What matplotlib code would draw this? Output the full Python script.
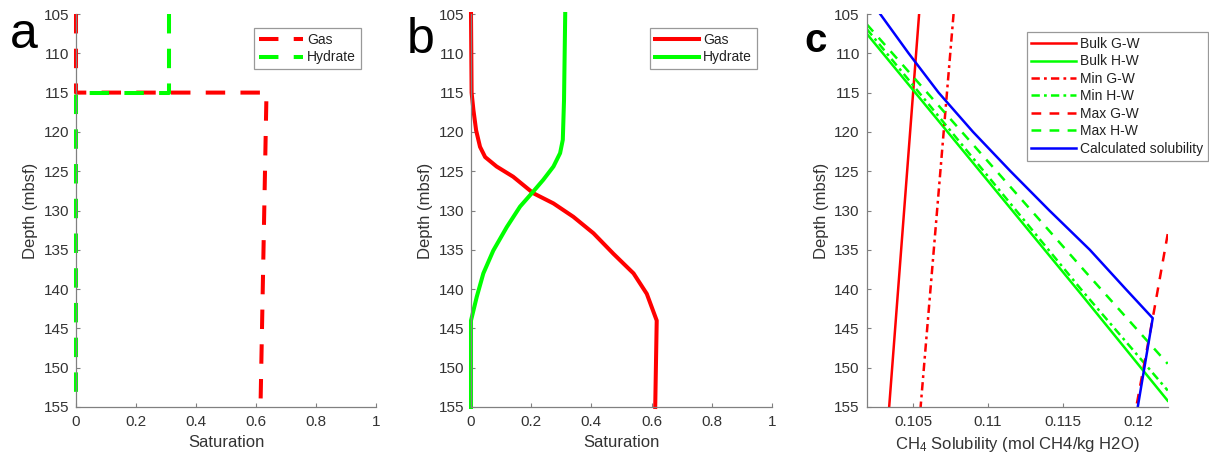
import matplotlib
matplotlib.use('Agg')
import matplotlib.pyplot as plt

plt.rcParams['font.family'] = ['Liberation Sans', 'DejaVu Sans']
plt.rcParams['mathtext.fontset'] = 'custom'
plt.rcParams['mathtext.rm'] = 'Liberation Sans'
plt.rcParams['lines.scale_dashes'] = False

# panel a: step profiles
a_depth = [105, 115, 115, 155]
a_gas = [0, 0, 0.635, 0.615]
a_hyd = [0.31, 0.31, 0, 0]

# panel b: smooth profiles
b_gas_depth = [105, 115, 117.2, 119.8, 121.9, 123.2, 124.4, 125.7, 127.8, 129.1,
               130.8, 132.9, 135.5, 138.0, 140.6, 144.0, 155]
b_gas = [0, 0.002, 0.008, 0.017, 0.03, 0.047, 0.085, 0.14, 0.207, 0.274,
         0.34, 0.407, 0.473, 0.54, 0.584, 0.617, 0.612]
b_hyd_depth = [105, 116, 121.0, 122.7, 124.4, 126.1, 127.8, 129.5, 132.1, 135.1,
               138.0, 141.0, 144.0, 155]
b_hyd = [0.313, 0.309, 0.305, 0.296, 0.274, 0.24, 0.202, 0.163, 0.119, 0.074,
         0.041, 0.019, 0.0, 0.0]

# panel c: solubility curves
bulk_gw_depth = [105, 155]
bulk_gw = [0.1054, 0.1034]
bulk_hw_depth = [107.5, 140.6, 154.2]
bulk_hw = [0.1019, 0.1162, 0.122]
min_gw_depth = [105, 155]
min_gw = [0.1077, 0.1055]
min_hw_depth = [106.9, 140.0, 152.9]
min_hw = [0.1019, 0.1162, 0.122]
max_gw_depth = [133, 143.7, 155]
max_gw = [0.122, 0.121, 0.1199]
max_hw_depth = [106.3, 138.0, 149.5]
max_hw = [0.1019, 0.1166, 0.122]
calc_depth = [105, 110, 115, 120, 125, 130, 135, 140, 143.7, 155]
calc_sol = [0.1028, 0.1047, 0.1067, 0.1090, 0.1115, 0.1141, 0.1168, 0.1192, 0.1210, 0.1200]

depth_ticks = list(range(105, 156, 5))
sat_ticks = [0, 0.2, 0.4, 0.6, 0.8, 1]
sat_labels = ['0', '0.2', '0.4', '0.6', '0.8', '1']
sol_ticks = [0.105, 0.11, 0.115, 0.12]
sol_labels = ['0.105', '0.11', '0.115', '0.12']

RED = '#ff0000'
GREEN = '#00ff00'
BLUE = '#0000ff'
AX_COL = '#808080'
TXT_COL = '#333333'

W, H = 1209, 462
fig = plt.figure(figsize=(W / 100, H / 100), dpi=100)


def make_axes(left_px, right_px):
    ax = fig.add_axes([left_px / W, (H - 407) / H, (right_px - left_px) / W, 393 / H])
    for s in ['top', 'right']:
        ax.spines[s].set_visible(False)
    for s in ['left', 'bottom']:
        ax.spines[s].set_color(AX_COL)
        ax.spines[s].set_linewidth(0.9)
    ax.tick_params(direction='in', length=3, width=0.8, color=AX_COL,
                   labelcolor=TXT_COL, labelsize=11)
    ax.tick_params(axis='x', pad=6)
    ax.tick_params(axis='y', pad=5)
    ax.set_ylim(155, 105)
    ax.set_yticks(depth_ticks)
    ax.set_ylabel('Depth (mbsf)', fontsize=12, color=TXT_COL)
    return ax


def add_legend(ax, x, y, **kw):
    leg = ax.legend(loc='upper right', bbox_to_anchor=(x, y), borderaxespad=0,
                    fontsize=10, handlelength=3.2, handletextpad=0.3,
                    labelspacing=0.25, borderpad=0.35, fancybox=False,
                    framealpha=1, **kw)
    leg.get_frame().set_edgecolor('#999999')
    leg.get_frame().set_linewidth(0.9)
    for t in leg.get_texts():
        t.set_color('#222222')
    return leg


# a
ax1 = make_axes(76, 376)
ax1.plot(a_gas, a_depth, color=RED, lw=2.9, dashes=(14, 11), label='Gas', clip_on=False)
ax1.plot(a_hyd, a_depth, color=GREEN, lw=2.9, dashes=(14, 11), label='Hydrate', clip_on=False)
ax1.set_xlim(0, 1)
ax1.set_xticks(sat_ticks)
ax1.set_xticklabels(sat_labels)
ax1.set_xlabel('Saturation', fontsize=12, color=TXT_COL)
add_legend(ax1, 0.95, 0.964)

# b
ax2 = make_axes(471, 772)
ax2.plot(b_gas, b_gas_depth, color=RED, lw=2.9, label='Gas', clip_on=False)
ax2.plot(b_hyd, b_hyd_depth, color=GREEN, lw=2.9, label='Hydrate', clip_on=False)
ax2.set_xlim(0, 1)
ax2.set_xticks(sat_ticks)
ax2.set_xticklabels(sat_labels)
ax2.set_xlabel('Saturation', fontsize=12, color=TXT_COL)
add_legend(ax2, 0.95, 0.964)

# c
ax3 = make_axes(866.7, 1167.7)
lw = 1.8
ax3.plot(bulk_gw, bulk_gw_depth, color=RED, lw=lw, label='Bulk G-W')
ax3.plot(bulk_hw, bulk_hw_depth, color=GREEN, lw=lw, label='Bulk H-W')
ax3.plot(min_gw, min_gw_depth, color=RED, lw=lw, dashes=(6, 3, 2, 3), label='Min G-W')
ax3.plot(min_hw, min_hw_depth, color=GREEN, lw=lw, dashes=(6, 3, 2, 3), label='Min H-W')
ax3.plot(max_gw, max_gw_depth, color=RED, lw=lw, dashes=(7, 6), label='Max G-W')
ax3.plot(max_hw, max_hw_depth, color=GREEN, lw=lw, dashes=(7, 6), label='Max H-W')
ax3.plot(calc_sol, calc_depth, color=BLUE, lw=lw, label='Calculated solubility')
ax3.set_xlim(0.1019, 0.122)
ax3.set_xticks(sol_ticks)
ax3.set_xticklabels(sol_labels)
ax3.set_xlabel(r'CH$\mathregular{_4}$ Solubility (mol CH4/kg H2O)', fontsize=12, color=TXT_COL)
add_legend(ax3, 1.134, 0.954)

# panel letters
fig.text(10 / W, 1 - 48 / H, 'a', fontsize=36, va='baseline', ha='left')
fig.text(407 / W, 1 - 53 / H, 'b', fontsize=36, va='baseline', ha='left')
fig.text(804 / W, 1 - 52 / H, 'c', fontsize=29, fontweight='bold', va='baseline', ha='left')

fig.savefig('out.png', dpi=100)
